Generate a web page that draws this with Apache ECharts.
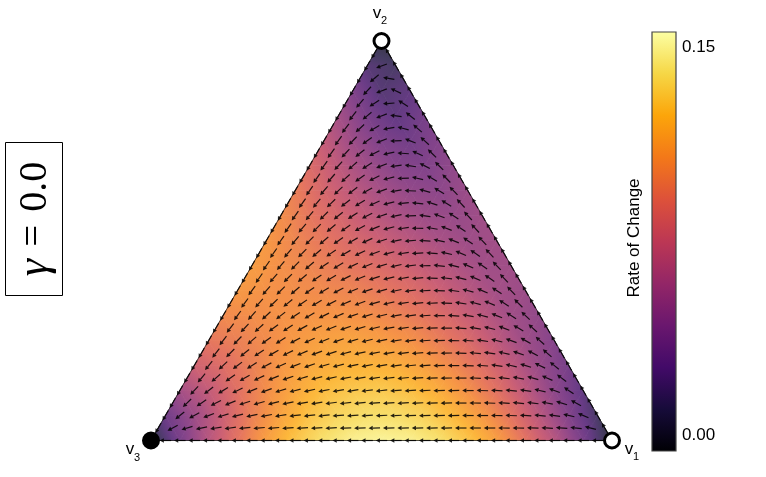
<!DOCTYPE html>
<html><head><meta charset="utf-8">
<script src="https://cdn.jsdelivr.net/npm/echarts@6/dist/echarts.min.js"></script>
<style>html,body{margin:0;padding:0;background:#fff}#c{width:766px;height:477px}</style>
</head><body><div id="c"></div>
<script>
// Rate of change on a triangular lattice (rows from top vertex v2 down to the v3-v1 edge)
const HEAT_N = 16;
const rateRows = [
  [0],
  [0.020, 0.013],
  [0.039, 0.019, 0.024],
  [0.057, 0.036, 0.024, 0.034],
  [0.072, 0.053, 0.038, 0.032, 0.041],
  [0.086, 0.069, 0.054, 0.042, 0.039, 0.047],
  [0.097, 0.082, 0.069, 0.057, 0.048, 0.045, 0.052],
  [0.105, 0.093, 0.082, 0.071, 0.061, 0.053, 0.050, 0.054],
  [0.110, 0.101, 0.093, 0.084, 0.076, 0.067, 0.059, 0.053, 0.055],
  [0.112, 0.106, 0.101, 0.095, 0.089, 0.081, 0.072, 0.063, 0.055, 0.054],
  [0.110, 0.107, 0.105, 0.103, 0.100, 0.094, 0.087, 0.077, 0.066, 0.056, 0.052],
  [0.103, 0.105, 0.107, 0.108, 0.108, 0.106, 0.100, 0.092, 0.081, 0.068, 0.055, 0.047],
  [0.093, 0.098, 0.104, 0.110, 0.114, 0.115, 0.112, 0.107, 0.097, 0.085, 0.069, 0.053, 0.041],
  [0.078, 0.087, 0.098, 0.109, 0.117, 0.121, 0.122, 0.120, 0.113, 0.102, 0.088, 0.070, 0.050, 0.034],
  [0.057, 0.072, 0.089, 0.105, 0.117, 0.126, 0.130, 0.131, 0.127, 0.119, 0.106, 0.090, 0.069, 0.045, 0.024],
  [0.031, 0.053, 0.077, 0.098, 0.115, 0.128, 0.136, 0.140, 0.139, 0.134, 0.124, 0.110, 0.091, 0.067, 0.040, 0.013],
  [0.000, 0.035, 0.066, 0.091, 0.113, 0.129, 0.141, 0.148, 0.150, 0.148, 0.141, 0.129, 0.113, 0.091, 0.066, 0.035, 0.000]
];
// Flow direction of the arrows (degrees counter-clockwise from +x), finer lattice; null = rest point
const ARROW_N = 32;
const angleRows = [
  [null],
  [240, 120],
  [240, 200, 120],
  [240, 220, 170, 120],
  [240, 227, 201, 155, 120],
  [240, 230, 213, 184, 147, 120],
  [240, 232, 220, 201, 173, 142, 120],
  [240, 233, 223, 210, 190, 165, 139, 120],
  [240, 234, 226, 215, 201, 182, 159, 137, 120],
  [240, 234, 227, 218, 207, 193, 176, 155, 136, 120],
  [240, 234, 228, 221, 212, 201, 187, 171, 153, 135, 120],
  [240, 235, 229, 222, 215, 206, 195, 182, 167, 150, 134, 120],
  [240, 235, 229, 223, 217, 209, 200, 190, 178, 164, 149, 134, 120],
  [240, 235, 230, 224, 218, 211, 204, 195, 186, 175, 162, 148, 133, 120],
  [240, 235, 230, 225, 219, 213, 207, 199, 191, 182, 172, 160, 147, 133, 120],
  [240, 235, 230, 225, 220, 214, 208, 202, 195, 188, 179, 170, 159, 146, 133, 120],
  [240, 235, 230, 225, 220, 215, 210, 204, 198, 192, 185, 177, 168, 158, 146, 133, 120],
  [240, 235, 230, 225, 220, 215, 210, 205, 200, 195, 189, 183, 176, 167, 157, 146, 133, 120],
  [240, 235, 230, 225, 220, 215, 211, 206, 202, 197, 192, 187, 181, 174, 166, 157, 146, 134, 120],
  [240, 235, 229, 225, 220, 215, 211, 207, 203, 198, 194, 190, 185, 179, 173, 166, 157, 146, 134, 120],
  [240, 234, 229, 224, 220, 215, 211, 207, 203, 199, 196, 192, 187, 183, 178, 172, 165, 157, 147, 134, 120],
  [240, 234, 229, 224, 219, 215, 210, 207, 203, 200, 196, 193, 189, 186, 182, 177, 172, 165, 157, 147, 135, 120],
  [240, 234, 228, 223, 218, 214, 210, 206, 203, 200, 197, 194, 191, 187, 184, 180, 176, 171, 165, 158, 148, 136, 120],
  [240, 233, 227, 222, 217, 213, 209, 205, 202, 199, 197, 194, 191, 189, 186, 183, 180, 176, 171, 166, 159, 149, 137, 120],
  [240, 233, 226, 221, 216, 212, 208, 205, 202, 199, 196, 194, 192, 189, 187, 184, 182, 179, 176, 171, 166, 160, 151, 138, 120],
  [240, 232, 225, 219, 214, 210, 206, 203, 200, 198, 195, 193, 191, 189, 187, 185, 183, 181, 178, 175, 172, 167, 161, 152, 139, 120],
  [240, 231, 223, 217, 212, 208, 204, 201, 199, 196, 194, 192, 191, 189, 187, 186, 184, 182, 180, 178, 176, 172, 168, 163, 154, 141, 120],
  [240, 230, 221, 215, 210, 205, 202, 199, 197, 195, 193, 191, 190, 188, 187, 186, 184, 183, 181, 180, 178, 176, 173, 169, 164, 156, 143, 120],
  [240, 227, 218, 211, 206, 202, 199, 197, 195, 193, 191, 190, 189, 187, 186, 185, 184, 183, 182, 181, 180, 178, 176, 174, 171, 167, 160, 146, 120],
  [240, 224, 214, 207, 202, 198, 196, 194, 192, 190, 189, 188, 187, 186, 185, 184, 184, 183, 182, 181, 180, 179, 178, 177, 175, 173, 169, 163, 151, 120],
  [240, 219, 208, 201, 197, 194, 192, 190, 189, 187, 187, 186, 185, 184, 184, 183, 183, 182, 182, 181, 181, 180, 180, 179, 178, 177, 175, 172, 168, 157, 120],
  [240, 208, 197, 192, 189, 188, 186, 185, 185, 184, 183, 183, 183, 182, 182, 182, 181, 181, 181, 181, 181, 180, 180, 180, 179, 179, 178, 177, 176, 173, 166, 120],
  [null, 180, 180, 180, 180, 180, 180, 180, 180, 180, 180, 180, 180, 180, 180, 180, 180, 180, 180, 180, 180, 180, 180, 180, 180, 180, 180, 180, 180, 180, 180, 180, null]
];
const vertexNames = ['v', 'v', 'v'];
const vertexSubs = ['1', '2', '3'];
const vertexFilled = [false, false, true];
const colorbarTicks = [0.00, 0.15];
const colorbarRange = [-0.006, 0.156];
const colorbarTitle = 'Rate of Change';
const gammaParts = ['γ', '=', '0.0'];

const H = Math.sqrt(3) / 2;
const vertexPos = [[1, 0], [0.5, H], [0, 0]];
const inferno = ['#000004','#160b39','#420a68','#6a176e','#932667','#bc3754','#dd513a','#f37819','#fca50a','#f6d746','#fcffa4'];
const infRgb = inferno.map(h => [parseInt(h.slice(1, 3), 16), parseInt(h.slice(3, 5), 16), parseInt(h.slice(5, 7), 16)]);
const HEAT_ALPHA = 0.8; // field is drawn semi-transparent over white
function cmap(v) {
  let t = (v - colorbarRange[0]) / (colorbarRange[1] - colorbarRange[0]);
  t = Math.max(0, Math.min(1, t));
  const x = t * (infRgb.length - 1);
  const i = Math.min(Math.floor(x), infRgb.length - 2), fr = x - i;
  const a = infRgb[i], b = infRgb[i + 1];
  return 'rgb(' + [0, 1, 2].map(k => Math.round(255 * (1 - HEAT_ALPHA) + HEAT_ALPHA * (a[k] + (b[k] - a[k]) * fr))).join(',') + ')';
}
function node(i, j, n) { return [0.5 - i / (2 * n) + j / n, (n - i) / n * H]; }

const heatTris = [];
for (let k = 0; k < HEAT_N; k++) {
  for (let j = 0; j <= k; j++) {
    const a = node(k, j, HEAT_N), b = node(k + 1, j, HEAT_N), c = node(k + 1, j + 1, HEAT_N);
    heatTris.push([a[0], a[1], rateRows[k][j], b[0], b[1], rateRows[k + 1][j], c[0], c[1], rateRows[k + 1][j + 1]]);
    if (j < k) {
      const d = node(k, j + 1, HEAT_N);
      heatTris.push([a[0], a[1], rateRows[k][j], d[0], d[1], rateRows[k][j + 1], c[0], c[1], rateRows[k + 1][j + 1]]);
    }
  }
}
const arrowData = [];
for (let i = 0; i <= ARROW_N; i++) {
  for (let j = 0; j <= i; j++) {
    if (angleRows[i][j] === null) continue;
    const p = node(i, j, ARROW_N);
    arrowData.push([p[0], p[1], angleRows[i][j]]);
  }
}

const chart = echarts.init(document.getElementById('c'));
const sans = 'Liberation Sans, Arial, sans-serif';
const serif = 'Liberation Serif, DejaVu Serif, serif';

const labelPos = [[629, 458, 636, 462], [377, 22, 384, 26], [130, 458, 137, 463]];
const graphics = [];
vertexNames.forEach((n, k) => {
  const p = labelPos[k];
  graphics.push({type: 'text', x: p[0], y: p[1], z: 100, style: {text: n, fill: '#000', font: '17px ' + sans, textAlign: 'center', textVerticalAlign: 'bottom'}});
  graphics.push({type: 'text', x: p[2], y: p[3], z: 100, style: {text: vertexSubs[k], fill: '#000', font: '11px ' + sans, textAlign: 'center', textVerticalAlign: 'bottom'}});
});
const cbTop = 32, cbBot = 451, cbLeft = 652, cbW = 24;
graphics.push({type: 'rect', shape: {x: cbLeft, y: cbTop, width: cbW, height: cbBot - cbTop}, z: 50,
  style: {fill: new echarts.graphic.LinearGradient(0, 1, 0, 0, inferno.map((c, k) => ({offset: k / (inferno.length - 1), color: c}))), stroke: '#444', lineWidth: 1.2}});
colorbarTicks.forEach(t => {
  const y = cbBot - (t - colorbarRange[0]) / (colorbarRange[1] - colorbarRange[0]) * (cbBot - cbTop);
  graphics.push({type: 'text', x: 682, y: y, z: 50, style: {text: t.toFixed(2), fill: '#000', font: '17px ' + sans, textAlign: 'left', textVerticalAlign: 'middle'}});
});
graphics.push({type: 'text', x: 634, y: 238, rotation: Math.PI / 2, z: 50,
  style: {text: colorbarTitle, fill: '#000', font: '17px ' + sans, textAlign: 'center', textVerticalAlign: 'middle'}});
graphics.push({type: 'rect', shape: {x: 5.5, y: 142.5, width: 57, height: 153}, z: 50, style: {fill: 'none', stroke: '#000', lineWidth: 1}});
graphics.push({type: 'text', x: 35, y: 219, rotation: Math.PI / 2, z: 50,
  style: {text: '{g|' + gammaParts[0] + '}{e|' + gammaParts[1] + '}{n|' + gammaParts[2] + '}', textAlign: 'center', textVerticalAlign: 'middle',
    rich: {
      g: {font: 'italic 44px ' + serif, fill: '#000'},
      e: {font: '39px ' + serif, fill: '#000', padding: [0, 13, 0, 12]},
      n: {font: '40px ' + serif, fill: '#000'}
    }}});

chart.setOption({
  animation: false,
  backgroundColor: '#fff',
  grid: {left: 151, top: 41, width: 461, height: 399.5},
  xAxis: {type: 'value', min: 0, max: 1, show: false},
  yAxis: {type: 'value', min: 0, max: H, show: false},
  graphic: graphics,
  series: [
    {
      type: 'custom', z: 1, silent: true, data: heatTris,
      renderItem: function (params, api) {
        const P = [0, 1, 2].map(k => api.coord([api.value(3 * k), api.value(3 * k + 1)]));
        const f = [0, 1, 2].map(k => api.value(3 * k + 2));
        const e1 = [P[1][0] - P[0][0], P[1][1] - P[0][1]], e2 = [P[2][0] - P[0][0], P[2][1] - P[0][1]];
        const det = e1[0] * e2[1] - e1[1] * e2[0];
        const d1 = f[1] - f[0], d2 = f[2] - f[0];
        const gx = (d1 * e2[1] - d2 * e1[1]) / det, gy = (d2 * e1[0] - d1 * e2[0]) / det;
        const gm = Math.hypot(gx, gy);
        let fill;
        if (gm < 1e-9) {
          fill = cmap(f[0]);
        } else {
          const nx = gx / gm, ny = gy / gm;
          const t = P.map(p => p[0] * nx + p[1] * ny);
          const tmin = Math.min(t[0], t[1], t[2]), tmax = Math.max(t[0], t[1], t[2]);
          const S = [P[0][0] + nx * (tmin - t[0]), P[0][1] + ny * (tmin - t[0])];
          const E = [P[0][0] + nx * (tmax - t[0]), P[0][1] + ny * (tmax - t[0])];
          const stops = [];
          for (let s = 0; s <= 6; s++) {
            const tt = tmin + (tmax - tmin) * s / 6;
            stops.push({offset: s / 6, color: cmap(f[0] + gm * (tt - t[0]))});
          }
          fill = new echarts.graphic.LinearGradient(S[0], S[1], E[0], E[1], stops, true);
        }
        return {type: 'polygon', shape: {points: P}, style: {fill: fill, stroke: fill, lineWidth: 0.8}};
      }
    },
    {
      type: 'line', z: 3, silent: true, symbol: 'none',
      data: [vertexPos[2], vertexPos[0], vertexPos[1], vertexPos[2]],
      lineStyle: {color: '#222', width: 0.8}
    },
    {
      type: 'custom', z: 4, silent: true, data: arrowData,
      renderItem: function (params, api) {
        const c = api.coord([api.value(0), api.value(1)]);
        const th = api.value(2) * Math.PI / 180;
        const ux = Math.cos(th), uy = -Math.sin(th);
        const L = 11.5, hl = 4.2, hw = 2.2;
        const tail = [c[0] - ux * L / 2, c[1] - uy * L / 2];
        const tip = [c[0] + ux * L / 2, c[1] + uy * L / 2];
        const base = [tip[0] - ux * hl, tip[1] - uy * hl];
        const px = -uy, py = ux;
        return {type: 'group', children: [
          {type: 'line', shape: {x1: tail[0], y1: tail[1], x2: base[0], y2: base[1]}, style: {stroke: '#000', lineWidth: 1.2, opacity: 0.85}},
          {type: 'polygon', shape: {points: [tip, [base[0] + px * hw, base[1] + py * hw], [base[0] - px * hw, base[1] - py * hw]]}, style: {fill: '#000', opacity: 0.85}}
        ]};
      }
    },
    {
      type: 'scatter', z: 10, silent: true, symbol: 'circle', symbolSize: 15,
      itemStyle: {opacity: 1},
      data: vertexPos.map((p, k) => ({value: p, itemStyle: {color: vertexFilled[k] ? '#000' : '#fff', borderColor: '#000', borderWidth: 3, opacity: 1}}))
    }
  ]
});
</script></body></html>
